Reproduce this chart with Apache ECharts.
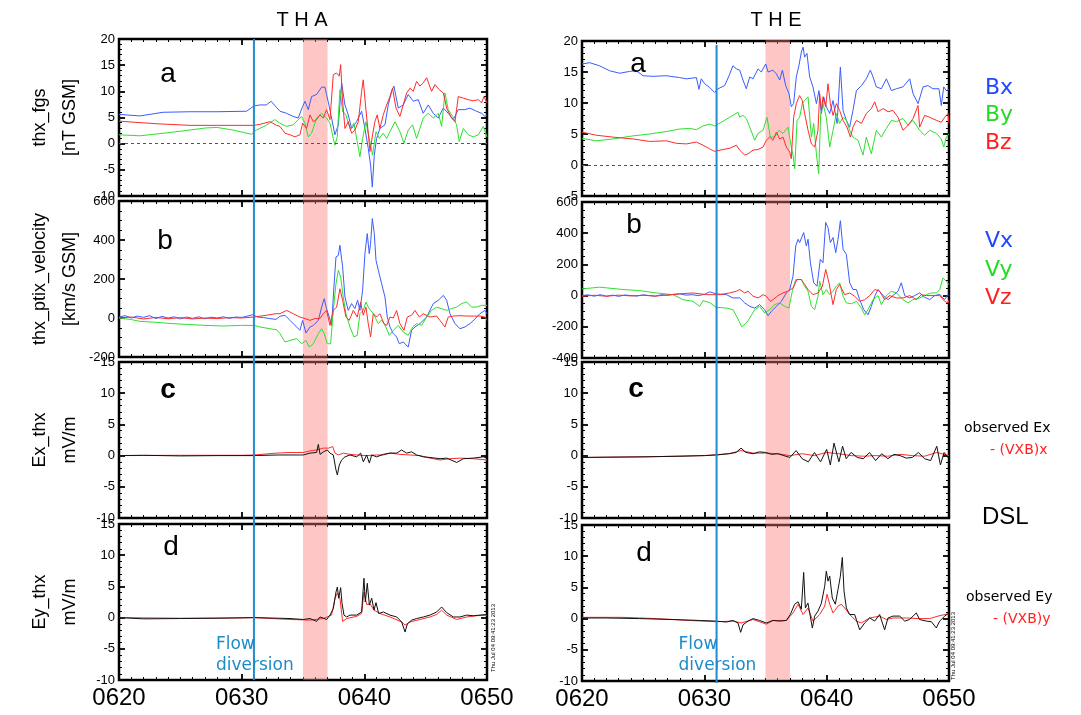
<!DOCTYPE html>
<html><head><meta charset="utf-8">
<script src="https://cdn.jsdelivr.net/npm/echarts@6/dist/echarts.min.js"></script>
<style>html,body{margin:0;padding:0;background:#fff}#c{width:1081px;height:715px}</style>
</head><body><div id="c"></div>
<script>
// time in minutes after 06:00 UT
const xTickValues = [20, 30, 40, 50];
const xTickLabels = ['0620', '0630', '0640', '0650'];
const flowDiversionTime = 31;
const bandStart = 35, bandEnd = 37;

// ---------- THA ----------
const tha_Bx = [[20,5.6],[21.7,5.3],[23.6,6.0],[25.8,6.1],[28,6.1],[30.4,6.2],[31,7.2],[31.5,7.4],[32,7.4],[32.4,8.1],[32.85,6.9],[33.12,6.2],[33.66,5.8],[34.21,5.2],[34.61,4.9],[34.97,7.1],[35.16,8.1],[35.43,6.5],[35.7,9.0],[36.11,9.4],[36.52,10.8],[36.79,10.8],[36.92,9.4],[37.14,7.1],[37.33,4.9],[37.6,1.7],[37.88,3.6],[38.15,11.6],[38.42,7.4],[38.69,5.5],[38.96,2.9],[39.37,4.2],[39.78,6.2],[40.05,2.9],[40.32,-0.9],[40.51,-4.1],[40.65,-8.3],[40.81,-2.2],[41.0,1.0],[41.27,2.9],[41.68,3.6],[41.95,7.4],[42.22,10.0],[42.41,11.0],[42.77,6.8],[43.17,7.4],[43.58,9.4],[43.99,8.1],[44.4,8.4],[44.8,5.8],[45.21,7.4],[45.62,5.8],[46.03,4.9],[46.44,6.8],[46.84,5.8],[47.25,4.6],[47.66,6.5],[48.2,6.5],[48.61,6.8],[49.15,6.2],[49.56,5.8],[49.83,5.2],[50,5.5]];
const tha_By = [[20,1.7],[21.7,1.5],[24.4,2.2],[27.1,3.0],[28,3.1],[29.3,2.6],[30.8,1.8],[31.2,2.6],[32.0,3.5],[32.7,4.6],[33.12,3.9],[33.66,3.3],[34.21,3.6],[34.61,4.6],[34.89,5.2],[35.16,3.9],[35.43,1.3],[35.7,2.0],[36.11,4.9],[36.52,5.8],[36.92,4.9],[37.2,3.9],[37.47,1.0],[37.6,-0.3],[37.79,1.3],[38.01,10.3],[38.23,6.2],[38.5,5.5],[38.83,2.9],[39.15,3.9],[39.42,0.4],[39.64,-2.5],[39.86,1.0],[40.13,4.2],[40.4,1.0],[40.67,-2.2],[40.95,2.3],[41.22,1.0],[41.54,2.0],[41.82,1.0],[42.09,2.3],[42.5,4.2],[42.9,2.3],[43.23,0.1],[43.58,2.6],[43.94,3.6],[44.26,1.0],[44.53,2.9],[44.8,4.9],[45.21,5.8],[45.62,4.9],[46.03,5.8],[46.3,3.3],[46.57,9.7],[46.84,6.5],[47.2,5.2],[47.52,3.6],[47.74,0.4],[48.07,2.9],[48.47,1.7],[48.88,1.3],[49.29,1.7],[49.7,3.3],[50,1.3]];
const tha_Bz = [[20,4.3],[23.1,3.8],[25.8,3.5],[28,3.5],[31,3.5],[31.5,3.7],[32.3,4.2],[32.85,3.5],[33.12,3.3],[33.53,2.0],[33.94,1.7],[34.34,1.3],[34.75,1.7],[34.97,3.9],[35.29,2.9],[35.57,5.5],[35.84,4.2],[36.11,4.6],[36.38,5.5],[36.65,4.9],[36.92,6.5],[37.2,4.6],[37.47,13.2],[37.74,13.5],[37.96,12.9],[38.07,15.1],[38.23,8.1],[38.42,2.9],[38.69,4.2],[38.96,2.0],[39.23,2.6],[39.51,4.2],[39.78,10.0],[39.91,12.2],[40.13,6.5],[40.32,2.0],[40.46,-1.5],[40.67,1.7],[40.86,4.2],[41.05,5.5],[41.27,2.9],[41.54,5.5],[41.82,7.4],[42.09,9.0],[42.3,10.6],[42.58,6.8],[42.9,5.2],[43.17,7.4],[43.45,9.7],[43.72,10.6],[43.99,10.0],[44.26,11.9],[44.53,11.0],[44.8,11.6],[45.08,12.6],[45.48,10.0],[45.76,11.3],[46.11,10.3],[46.44,9.7],[46.71,6.8],[47.11,4.9],[47.39,4.2],[47.66,9.0],[48.07,8.7],[48.47,8.4],[48.88,8.2],[49.29,8.4],[49.56,7.8],[49.75,9.0],[50,7.8]];
const tha_Vx = [[20,5],[20.5,12],[21,0],[21.5,10],[22,3],[22.5,12],[23,-3],[23.5,8],[24,0],[24.5,6],[25,-5],[25.5,5],[26,-2],[26.5,6],[27,-4],[27.5,4],[28,0],[28.5,6],[29,-2],[29.5,5],[30,3],[30.5,10],[30.9,17],[31.3,5],[31.8,2],[32.3,-3],[32.8,-7],[33.12,9],[33.53,14],[33.94,-12],[34.48,-46],[34.75,-63],[34.97,-12],[35.24,-77],[35.57,-46],[35.84,-38],[36.25,-12],[36.52,56],[36.73,99],[36.92,48],[37.14,5],[37.33,-38],[37.52,159],[37.69,313],[37.88,321],[38.01,373],[38.23,262],[38.42,108],[38.69,39],[38.96,74],[39.23,48],[39.45,91],[39.64,39],[39.86,142],[40.05,330],[40.24,433],[40.4,330],[40.51,381],[40.65,510],[40.81,433],[40.95,296],[41.14,245],[41.41,176],[41.68,108],[41.87,5],[42.09,-46],[42.36,-80],[42.63,-97],[42.85,-132],[43.17,-123],[43.58,-149],[43.85,-63],[44.13,-46],[44.53,-29],[45.08,5],[45.62,74],[46.03,91],[46.44,116],[46.71,91],[46.98,22],[47.39,-29],[47.79,-55],[48.2,-46],[48.61,-29],[49.02,-5],[49.42,22],[49.83,39],[50,22]];
const tha_Vy = [[20,0],[21,-8],[21.7,-17],[23,-22],[24.4,-29],[25.5,-33],[27.1,-38],[28.5,-41],[29.9,-38],[31,-38],[31.5,-46],[32.3,-55],[32.85,-60],[33.12,-80],[33.53,-123],[33.94,-115],[34.48,-106],[34.89,-132],[35.24,-115],[35.51,-149],[35.84,-132],[36.25,-80],[36.52,-55],[36.73,-80],[36.98,-132],[37.25,-132],[37.47,39],[37.69,176],[37.88,245],[38.07,210],[38.28,108],[38.5,22],[38.83,-46],[39.15,-97],[39.42,-89],[39.64,22],[39.91,39],[40.13,82],[40.32,56],[40.51,39],[40.73,22],[41.14,-29],[41.41,-10],[41.76,-46],[42.03,-89],[42.36,-63],[42.77,-38],[43.17,-72],[43.58,-89],[43.94,-46],[44.26,-29],[44.67,-38],[45.08,5],[45.48,39],[45.89,56],[46.3,48],[46.71,39],[47.11,48],[47.52,56],[47.93,74],[48.34,82],[48.74,56],[49.15,56],[49.56,65],[50,65]];
const tha_Vz = [[20,0],[21,5],[22,-5],[23,3],[24,-4],[25,2],[26,-5],[27,0],[28,-3],[29,2],[30,0],[31,5],[32,14],[32.8,22],[33.12,22],[33.66,39],[34.21,22],[34.75,5],[35.16,-3],[35.57,-12],[35.97,-3],[36.38,-3],[36.65,22],[36.92,39],[37.2,-38],[37.47,39],[37.74,56],[38.01,150],[38.23,91],[38.5,5],[38.77,-12],[39.1,39],[39.42,5],[39.7,82],[39.91,14],[40.13,56],[40.32,-29],[40.51,-97],[40.73,22],[41.0,5],[41.27,22],[41.6,-29],[41.82,-38],[42.09,5],[42.36,0],[42.63,39],[42.9,-29],[43.23,-63],[43.5,5],[43.85,14],[44.13,39],[44.48,5],[44.8,22],[45.35,5],[45.89,10],[46.16,-12],[46.57,-46],[46.84,5],[47.25,10],[47.79,12],[48.34,10],[48.88,10],[49.42,10],[49.83,5],[50,-12]];
const tha_Ex_obs = [[20,0],[22,0.05],[25,-0.05],[28,0],[31,0],[33,0.1],[34.8,0.1],[35.03,0.1],[35.57,0.4],[36.11,0.5],[36.25,1.8],[36.39,0.2],[36.66,0.6],[36.98,0.9],[37.2,0.4],[37.47,0.1],[37.69,-2.3],[37.8,-3.1],[37.96,-1.5],[38.15,-0.7],[38.42,-0.2],[38.83,0.1],[39.38,-0.2],[39.7,0.4],[39.92,-1.0],[40.19,0.1],[40.41,-1.2],[40.6,0.1],[41.0,-0.2],[41.55,0.2],[42.09,0.4],[42.64,0.4],[43.04,0.9],[43.45,0.4],[43.86,0.6],[44.27,0.1],[44.81,-0.2],[45.35,-0.3],[46.17,-0.5],[46.71,-0.4],[47.53,-1.1],[48.07,-0.5],[48.89,-0.4],[49.7,-0.2],[50,-0.4]];
const tha_Ex_vxb = [[20,0],[25,0.05],[30,0.05],[31,0.1],[32.85,0.4],[33.94,0.5],[35.03,0.5],[35.57,0.75],[36.11,0.9],[36.66,1.2],[37.1,1.2],[37.42,1.45],[37.61,0.4],[37.88,0.1],[38.29,0.4],[38.83,0.2],[39.38,0.1],[40.19,0],[41.0,0.1],[41.55,0.1],[42.09,0.4],[42.9,0.2],[43.72,0.1],[44.54,0],[45.35,-0.4],[46.17,-0.7],[46.98,-0.5],[47.8,-0.4],[48.89,-0.5],[50,-0.7]];
const tha_Ey_obs = [[20,0],[22,-0.2],[25,-0.15],[28,-0.1],[31,0],[33.94,-0.15],[35.03,-0.3],[35.57,-0.15],[36.11,-0.6],[36.39,0.1],[36.93,-0.3],[37.2,0.4],[37.47,1.45],[37.69,4.1],[37.8,4.9],[37.91,3.1],[38.07,4.8],[38.18,2.3],[38.34,0.4],[38.56,0.1],[38.83,0.4],[39.38,0.4],[39.78,0.9],[39.97,6.3],[40.08,2.5],[40.24,5.5],[40.41,2.0],[40.6,3.1],[40.79,1.2],[40.95,2.4],[41.17,0.65],[41.55,0.9],[42.09,0.4],[42.64,0.1],[43.04,-0.7],[43.32,-2.3],[43.51,-1.0],[43.86,-0.4],[44.27,-0.15],[44.81,0.1],[45.35,0.4],[45.9,0.9],[46.3,1.7],[46.71,0.8],[47.26,0.1],[47.8,0.1],[48.34,0.4],[48.89,0.3],[49.43,0.4],[50,0.5]];
const tha_Ey_vxb = [[20,0],[25,-0.1],[30,-0.05],[31,0],[33.94,-0.3],[35.57,-0.4],[36.66,-0.15],[37.33,0.4],[37.61,3.1],[37.8,3.9],[38.01,3.1],[38.23,-0.6],[38.56,-0.15],[39.38,0.2],[39.78,0.65],[39.97,4.1],[40.19,2.1],[40.46,2.2],[40.79,1.2],[41.28,0.65],[42.09,0.1],[43.04,-0.7],[43.32,-1.2],[43.72,-0.7],[44.54,-0.3],[45.35,0.1],[45.9,0.5],[46.3,1.2],[46.71,0.4],[47.53,-0.3],[48.34,0.1],[49.16,0.3],[50,0.4]];

// ---------- THE ----------
const the_Bx = [[20,16.3],[20.63,16.5],[21.44,16.0],[22.26,15.2],[23.08,14.8],[23.9,15.1],[24.44,15.2],[24.99,14.4],[25.8,14.3],[26.89,14.4],[27.98,14.1],[28.53,13.9],[29.35,14.1],[29.56,12.2],[29.75,13.9],[30.03,13.1],[30.44,12.5],[30.84,11.7],[31.12,12.3],[31.66,12.8],[32.02,14.4],[32.34,16.0],[32.62,15.5],[32.89,15.3],[33.16,13.7],[33.43,12.3],[33.71,14.2],[33.98,13.9],[34.39,15.5],[34.66,15.0],[35.02,16.3],[35.21,15.0],[35.61,15.3],[35.89,14.7],[36.16,13.7],[36.38,15.3],[36.65,12.8],[36.92,11.5],[37.11,9.4],[37.3,9.9],[37.52,14.2],[37.74,16.1],[37.93,18.2],[38.07,19.0],[38.2,17.4],[38.39,18.0],[38.61,14.2],[38.88,12.6],[39.16,9.9],[39.37,12.0],[39.57,8.3],[39.76,11.0],[39.97,9.4],[40.25,8.3],[40.52,10.4],[40.85,6.7],[41.12,15.8],[41.34,8.8],[41.61,7.2],[41.88,6.1],[42.15,8.8],[42.43,12.0],[42.84,12.8],[43.24,13.9],[43.57,15.3],[43.79,14.2],[44.06,12.6],[44.47,12.3],[44.88,13.9],[45.29,12.0],[45.7,12.3],[46.24,12.6],[46.79,13.9],[47.06,11.5],[47.47,9.9],[47.88,12.6],[48.28,12.8],[48.69,12.3],[49.18,12.3],[49.37,9.6],[49.57,12.6],[49.78,12.0],[50,12.2]];
const the_By = [[20,4.3],[21.17,3.9],[22.53,4.2],[24.17,4.7],[25.53,5.0],[26.89,5.4],[27.98,5.8],[28.8,5.9],[29.35,5.7],[29.89,6.3],[30.44,6.6],[30.84,6.3],[31.39,6.9],[32.07,7.7],[32.75,8.5],[32.89,7.7],[33.16,8.0],[33.43,7.5],[33.71,6.1],[34.12,4.0],[34.39,5.1],[34.8,5.6],[35.12,7.7],[35.4,4.5],[35.75,4.5],[36.1,5.6],[36.43,5.1],[36.84,6.1],[37.11,2.9],[37.25,1.6],[37.39,-0.6],[37.58,7.2],[37.79,7.7],[38.01,9.9],[38.2,10.4],[38.48,11.0],[38.75,4.5],[38.94,6.7],[39.16,1.8],[39.35,-1.4],[39.51,8.3],[39.7,9.9],[39.97,7.7],[40.25,2.9],[40.52,5.6],[40.79,8.3],[41.06,6.7],[41.34,7.7],[41.61,7.2],[41.88,5.6],[42.15,4.5],[42.56,4.0],[42.97,1.6],[43.24,4.5],[43.65,1.8],[44.06,5.6],[44.47,4.5],[44.88,5.9],[45.29,7.2],[45.7,7.0],[46.24,7.5],[46.65,6.4],[47.06,7.2],[47.6,5.6],[48.01,4.8],[48.42,5.6],[48.97,5.1],[49.37,4.2],[49.57,2.9],[49.78,4.5],[50,5.0]];
const the_Bz = [[20,5.3],[21.17,4.8],[22.53,4.5],[24.17,4.2],[25.53,3.8],[26.89,3.9],[27.71,3.5],[28.53,3.4],[29.35,3.7],[29.89,3.2],[30.44,2.6],[30.84,2.2],[31.53,2.5],[32.07,2.7],[32.62,3.2],[32.89,2.4],[33.3,1.6],[33.57,1.8],[33.98,2.4],[34.39,2.5],[34.8,2.9],[35.07,4.0],[35.34,4.5],[35.61,4.0],[35.89,5.3],[36.16,4.2],[36.43,4.5],[36.7,2.9],[36.98,2.1],[37.11,1.0],[37.3,7.7],[37.52,9.9],[37.79,11.2],[38.01,10.4],[38.2,8.3],[38.48,5.6],[38.75,3.4],[39.02,2.9],[39.29,5.6],[39.43,11.5],[39.57,8.8],[39.7,11.0],[39.92,9.4],[40.11,13.1],[40.3,9.9],[40.52,8.0],[40.79,9.9],[41.06,8.8],[41.34,7.2],[41.66,6.1],[41.94,4.5],[42.15,6.1],[42.43,7.2],[42.84,6.7],[43.24,8.3],[43.65,9.1],[43.93,10.2],[44.2,8.6],[44.61,9.1],[45.02,8.6],[45.42,8.8],[45.83,7.7],[46.24,5.6],[46.65,6.4],[47.06,7.5],[47.47,9.6],[47.6,6.1],[48.01,8.0],[48.42,7.7],[48.97,7.2],[49.37,6.9],[49.65,7.7],[49.92,8.3],[50,6.7]];
const the_Vx = [[20,0],[20.5,5],[21,-4],[21.5,6],[22,-4],[22.5,3],[23,-5],[23.5,4],[24,0],[24.5,-3],[25,5],[25.5,0],[26,-4],[26.5,6],[27,2],[27.5,8],[28,11],[28.5,3],[29,6],[29.5,0],[30,8],[30.44,24],[30.98,11],[31.8,6],[32.34,-15],[32.89,-15],[33.3,-47],[33.71,-69],[34.12,-80],[34.52,-58],[34.93,-90],[35.21,-129],[35.48,-101],[35.89,-69],[36.3,-37],[36.7,17],[36.98,39],[37.25,125],[37.47,318],[37.66,361],[37.79,340],[38.12,404],[38.34,318],[38.48,361],[38.67,211],[38.94,82],[39.21,60],[39.48,232],[39.7,211],[39.92,469],[40.11,436],[40.3,340],[40.52,372],[40.74,275],[40.93,361],[41.12,480],[41.34,297],[41.61,264],[41.88,82],[42.15,39],[42.43,39],[42.7,-26],[43.03,-90],[43.38,-123],[43.65,-69],[43.93,-4],[44.2,39],[44.61,0],[45.02,-26],[45.42,0],[45.83,28],[46.1,82],[46.38,0],[46.79,-15],[47.2,0],[47.6,17],[48.01,-10],[48.42,-26],[48.83,0],[49.24,8],[49.65,-26],[49.92,8],[50,0]];
const the_Vy = [[20,43],[21.44,54],[23.35,39],[24.71,32],[26.08,17],[27.44,6],[28.26,-26],[29.07,-37],[29.62,-69],[29.89,-32],[30.44,-45],[30.98,-75],[31.8,-80],[32.34,-90],[32.75,-150],[33.05,-200],[33.43,-176],[33.71,-144],[34.12,-90],[34.52,-69],[34.93,-112],[35.34,-90],[35.75,-58],[36.16,-47],[36.57,-69],[36.92,-80],[37.19,28],[37.47,103],[37.66,103],[37.93,103],[38.2,60],[38.48,28],[38.75,-69],[39.02,-90],[39.29,-4],[39.43,92],[39.7,6],[39.97,39],[40.25,6],[40.52,28],[40.79,60],[41.06,82],[41.34,-4],[41.61,-47],[42.02,-52],[42.43,-37],[42.84,-80],[43.11,-123],[43.38,-90],[43.79,-26],[44.2,0],[44.47,-58],[44.88,0],[45.29,28],[45.7,17],[46.24,-26],[46.65,-47],[47.06,-26],[47.6,-15],[48.15,6],[48.56,17],[48.97,17],[49.24,39],[49.51,114],[49.78,92],[50,70]];
const the_Vz = [[20,-4],[21,2],[22,-4],[23,3],[24,-2],[25,2],[26,-3],[27,4],[27.98,11],[29.07,17],[30.16,6],[31.25,6],[32.07,17],[32.62,28],[32.89,39],[33.3,17],[33.57,28],[33.98,-4],[34.39,-15],[34.8,6],[35.07,-4],[35.4,-37],[35.61,-26],[36.02,0],[36.43,17],[36.84,28],[37.25,49],[37.58,103],[37.93,103],[38.2,71],[38.48,39],[38.88,6],[39.29,17],[39.65,60],[39.92,168],[40.19,82],[40.52,-58],[40.79,39],[41.06,71],[41.47,6],[41.88,17],[42.29,-4],[42.7,-37],[43.11,-26],[43.52,0],[43.93,39],[44.33,28],[44.74,-26],[45.15,0],[45.7,-15],[46.24,-15],[46.79,0],[47.33,-26],[47.74,6],[48.15,0],[48.69,0],[49.24,0],[49.65,-37],[49.92,-47],[50,-26]];
const the_Ex_obs = [[20,-0.3],[22,-0.25],[25,-0.2],[28,-0.1],[30,0],[31,0.1],[32,0.3],[32.6,0.5],[33,1.2],[33.4,0.5],[34,0.3],[34.5,0.6],[35,0.5],[35.5,0.2],[36,0.3],[36.5,0],[37,-0.3],[37.5,0.8],[38,-0.5],[38.5,-1.0],[39,0.5],[39.5,-1.0],[40,1.0],[40.3,-1.5],[40.6,2.0],[41,-1.0],[41.3,1.5],[41.6,-0.5],[42,0.5],[42.5,-0.3],[43,-0.5],[43.5,0.5],[44,-0.8],[44.5,0.3],[45,-0.5],[45.5,0.2],[46,0],[46.5,-0.4],[47,-0.3],[47.5,0.5],[48,-0.5],[48.5,-0.8],[49,1.5],[49.3,-1.5],[49.6,0.5],[50,-0.5]];
const the_Ex_vxb = [[20,-0.3],[25,-0.2],[30,0],[32,0.3],[33,0.8],[34,0.4],[35,0.4],[36,0.3],[37,0],[38,0.3],[39,0],[40,0.5],[41,0.3],[42,0],[43,-0.1],[44,0],[45,-0.1],[46,0.2],[47,0],[48,-0.1],[49,0.5],[50,0]];
const the_Ey_obs = [[20,0.1],[21.99,0.1],[24.71,0],[27.44,-0.15],[29.62,-0.3],[30.98,-0.4],[31.8,-0.55],[32.34,-0.3],[32.75,-0.7],[32.97,-2.2],[33.16,-1.0],[33.57,-0.4],[33.98,0],[34.52,-0.3],[35.07,-0.7],[35.61,-0.3],[36.16,-0.4],[36.7,-0.3],[37.03,0.65],[37.38,2.3],[37.66,2.7],[37.93,1.5],[38.12,7.4],[38.26,1.7],[38.47,2.5],[38.66,0.4],[38.83,-1.5],[39.02,0.4],[39.29,1.2],[39.56,2.4],[39.84,5.2],[39.97,7.6],[40.11,6.0],[40.25,6.8],[40.46,3.3],[40.71,2.3],[40.93,4.7],[41.12,6.8],[41.28,9.8],[41.42,4.4],[41.61,1.7],[41.88,0.65],[42.29,0.65],[42.7,-1.8],[43.11,-0.7],[43.52,0.1],[43.92,-0.4],[44.33,0.65],[44.74,-1.8],[45.01,0.1],[45.42,0.4],[45.97,0.4],[46.38,-0.4],[46.78,-0.15],[47.33,0.9],[47.6,-0.15],[48.15,-0.4],[48.56,-0.5],[48.96,-1.5],[49.24,-0.4],[49.65,0.4],[50,0.9]];
const the_Ey_vxb = [[20,0.2],[23.35,0.2],[26.08,0],[28.8,-0.3],[30.98,-0.5],[32.34,-0.4],[33.02,-0.7],[33.98,-0.15],[35.07,-0.9],[35.61,-0.3],[36.7,-0.3],[37.25,0.9],[37.66,2.3],[38.07,0.65],[38.47,1.7],[38.88,-0.4],[39.43,0.65],[39.84,2.0],[40.03,3.9],[40.25,2.3],[40.52,0.9],[40.93,2.0],[41.2,2.3],[41.47,1.7],[41.88,0.65],[42.43,-0.4],[42.83,-0.7],[43.52,0.1],[44.33,0.4],[44.88,-0.15],[45.42,0.1],[46.51,0.1],[47.6,0],[48.42,0],[49.1,0.4],[50,0.8]];

// ---------- build ----------
const BLUE = '#3a5cff', GREEN = '#2fe02f', RED = '#ff2b2b', BLACK = '#111111';
const FONT = '"Liberation Sans", Arial, sans-serif';
const WFONT = '"DejaVu Sans", "Liberation Sans", sans-serif';

const colLayout = [{left: 119, width: 368}, {left: 582, width: 367}];
const rowLayout = [
  [{top: 39, height: 157}, {top: 201, height: 156}, {top: 362, height: 156}, {top: 524, height: 156}],
  [{top: 41, height: 155}, {top: 202, height: 156}, {top: 362, height: 156}, {top: 525, height: 156}]
];
const yRanges = [
  [[-10, 20, 5, 5], [-200, 600, 200, 4], [-10, 15, 5, 5], [-10, 15, 5, 5]],
  [[-5, 20, 5, 5], [-400, 600, 200, 4], [-10, 15, 5, 5], [-10, 15, 5, 5]]
];
const yNames = ['thx_fgs\n[nT GSM]', 'thx_ptix_velocity\n[km/s GSM]', 'Ex_thx\nmV/m', 'Ey_thx\nmV/m'];
const panelSeries = [
  [[[tha_Bx, BLUE], [tha_By, GREEN], [tha_Bz, RED]],
   [[tha_Vx, BLUE], [tha_Vy, GREEN], [tha_Vz, RED]],
   [[tha_Ex_vxb, RED], [tha_Ex_obs, BLACK]],
   [[tha_Ey_vxb, RED], [tha_Ey_obs, BLACK]]],
  [[[the_Bx, BLUE], [the_By, GREEN], [the_Bz, RED]],
   [[the_Vx, BLUE], [the_Vy, GREEN], [the_Vz, RED]],
   [[the_Ex_vxb, RED], [the_Ex_obs, BLACK]],
   [[the_Ey_vxb, RED], [the_Ey_obs, BLACK]]]
];

const grids = [], xAxes = [], yAxes = [], series = [];
for (let c = 0; c < 2; c++) {
  for (let r = 0; r < 4; r++) {
    const g = c * 4 + r;
    const L = rowLayout[c][r];
    grids.push({left: colLayout[c].left, width: colLayout[c].width, top: L.top, height: L.height,
      show: true, borderColor: '#000', borderWidth: 2.5, backgroundColor: 'transparent'});
    const tickStyle = {color: '#000', width: 1.8};
    ['bottom', 'top'].forEach(pos => {
      xAxes.push({type: 'value', gridIndex: g, position: pos, min: 20, max: 50, interval: 10,
        axisLine: {show: false, onZero: false}, splitLine: {show: false},
        axisTick: {show: true, inside: true, length: 6, lineStyle: tickStyle},
        minorTick: {show: true, splitNumber: 10, length: 3, lineStyle: {color: '#000', width: 1}},
        axisLabel: {show: pos === 'bottom' && r === 3, fontSize: 24, color: '#000', margin: 6, fontFamily: FONT,
          formatter: v => { const i = xTickValues.indexOf(v); return i >= 0 ? xTickLabels[i] : ''; }}});
    });
    const yr = yRanges[c][r];
    ['left', 'right'].forEach(pos => {
      const ax = {type: 'value', gridIndex: g, position: pos, min: yr[0], max: yr[1], interval: yr[2],
        axisLine: {show: false, onZero: false}, splitLine: {show: false},
        axisTick: {show: true, inside: true, length: 6, lineStyle: tickStyle},
        minorTick: {show: true, splitNumber: yr[3], length: 3, lineStyle: {color: '#000', width: 1}},
        axisLabel: {show: pos === 'left', fontSize: 13, color: '#000', margin: 4, fontFamily: FONT}};
      if (pos === 'left' && c === 0) {
        ax.name = yNames[r];
        ax.nameLocation = 'middle';
        ax.nameRotate = 90;
        ax.nameGap = 34;
        ax.nameTextStyle = {fontSize: 18, lineHeight: 30, color: '#000', fontFamily: FONT};
      }
      yAxes.push(ax);
    });
    panelSeries[c][r].forEach(([data, color], k) => {
      const s = {type: 'line', xAxisIndex: g * 2, yAxisIndex: g * 2, data, symbol: 'none', showSymbol: false,
        lineStyle: {width: 1, color}, itemStyle: {color}, animation: false, silent: true, z: 3, clip: true};
      if (r === 0 && k === 0) {
        s.markLine = {silent: true, symbol: 'none', animation: false, label: {show: false},
          lineStyle: {type: [3, 3], color: '#555', width: 1}, data: [{yAxis: 0}]};
      }
      series.push(s);
    });
  }
}

const chart = echarts.init(document.getElementById('c'), null, {renderer: 'canvas', devicePixelRatio: 1});
chart.setOption({
  backgroundColor: '#fff', animation: false,
  grid: grids, xAxis: xAxes, yAxis: yAxes, series
});

// overlays: pink band, flow diversion line, texts
const txt = (text, x, y, font, fill, extra) => Object.assign({type: 'text', x, y, silent: true, z: 20,
  style: {text, font, fill, align: 'center', verticalAlign: 'middle'}}, extra || {});
const leg = (t, x, y, font, fill) => ({type: 'text', x, y, silent: true, z: 20, style: {text: t, font, fill, align: 'left', verticalAlign: 'middle'}});
const gfx = [];
const vSpan = [[39, 680, 39, 680], [40, 680, 45, 683]];
for (let c = 0; c < 2; c++) {
  const xa = c * 8;
  const x1 = chart.convertToPixel({xAxisIndex: xa}, bandStart);
  const x2 = chart.convertToPixel({xAxisIndex: xa}, bandEnd);
  const xe = chart.convertToPixel({xAxisIndex: xa}, flowDiversionTime);
  gfx.push({type: 'rect', silent: true, z: 1, shape: {x: x1, y: vSpan[c][0], width: x2 - x1, height: vSpan[c][1] - vSpan[c][0]},
    style: {fill: 'rgba(255,120,120,0.42)'}});
  gfx.push({type: 'line', silent: true, z: 15, shape: {x1: xe, y1: vSpan[c][2], x2: xe, y2: vSpan[c][3]},
    style: {stroke: '#1f8bd0', lineWidth: 2}});
  gfx.push(leg('Flow', xe - 38, 645, '17px ' + WFONT, '#1e8bc9'));
  gfx.push(leg('diversion', xe - 38, 666, '17px ' + WFONT, '#1e8bc9'));
}
// titles
gfx.push(txt('T H A', 302, 20, '20px ' + FONT, '#000'));
gfx.push(txt('T H E', 776, 20, '20px ' + FONT, '#000'));
// panel letters
[['a', 168, 74], ['b', 165, 241], ['c', 168, 390], ['d', 171, 547],
 ['a', 638, 64], ['b', 634, 225], ['c', 636, 389], ['d', 644, 553]].forEach(([t, x, y]) => {
  gfx.push(txt(t, x, y, (t === 'c' ? 'bold ' : '') + '28px ' + FONT, '#000'));
});
// legends
gfx.push(leg('Bx', 985, 88, '22px ' + WFONT, '#2048ff'));
gfx.push(leg('By', 985, 115, '22px ' + WFONT, '#22dd22'));
gfx.push(leg('Bz', 985, 143, '22px ' + WFONT, '#ff2020'));
gfx.push(leg('Vx', 985, 241, '22px ' + WFONT, '#2048ff'));
gfx.push(leg('Vy', 985, 270, '22px ' + WFONT, '#22dd22'));
gfx.push(leg('Vz', 985, 298, '22px ' + WFONT, '#ff2020'));
gfx.push(leg('observed Ex', 964, 428, '14px ' + WFONT, '#000'));
gfx.push(leg('- (VXB)x', 990, 450, '14px ' + WFONT, '#ff2020'));
gfx.push(leg('DSL', 982, 517, '24px ' + FONT, '#000'));
gfx.push(leg('observed Ey', 966, 597, '14px ' + WFONT, '#000'));
gfx.push(leg('- (VXB)y', 993, 619, '14px ' + WFONT, '#ff2020'));
// plot timestamps
gfx.push(txt('Thu Jul 04 09:41:23 2013', 493, 638, '6px ' + FONT, '#000', {rotation: Math.PI / 2}));
gfx.push(txt('Thu Jul 04 09:41:23 2013', 953, 646, '6px ' + FONT, '#000', {rotation: Math.PI / 2}));

chart.setOption({graphic: {elements: gfx}});
</script>
</body></html>
